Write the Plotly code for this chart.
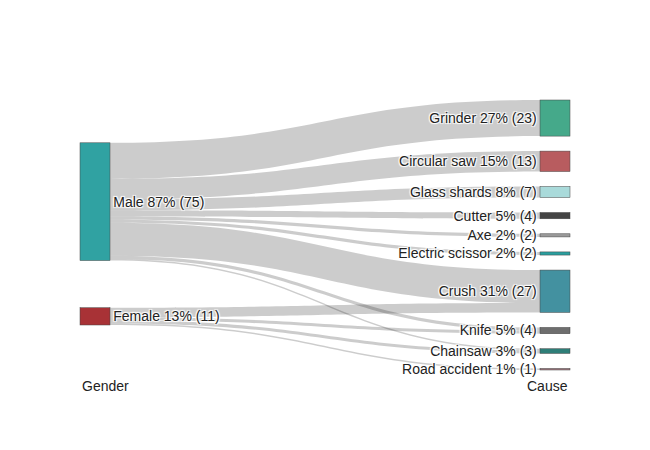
import plotly.graph_objects as go

node_labels = [
    "Male 87% (75)", "Female 13% (11)",
    "Grinder 27% (23)", "Circular saw 15% (13)", "Glass shards 8% (7)",
    "Cutter 5% (4)", "Axe 2% (2)", "Electric scissor 2% (2)",
    "Crush 31% (27)", "Knife 5% (4)", "Chainsaw 3% (3)", "Road accident 1% (1)",
]
node_colors = [
    "#30A2A2", "#A83236",
    "#45A98A", "#B85C5F", "#A9DADA", "#444444", "#9A9A9A", "#2A9E9E",
    "#4391A0", "#6E6E6E", "#2E7E78", "#A07A80",
]

link_source = [0, 0, 0, 0, 0, 0, 0, 0, 0, 1, 1, 1, 1]
link_target = [2, 3, 4, 5, 6, 7, 8, 9, 10, 8, 9, 10, 11]
link_value = [23, 13, 7, 4, 2, 2, 21, 2, 1, 6, 2, 2, 1]

fig = go.Figure(go.Sankey(
    arrangement="snap",
    node=dict(
        label=node_labels,
        color=node_colors,
        pad=15,
        thickness=30,
        line=dict(color="#444444", width=0.5),
    ),
    link=dict(source=link_source, target=link_target, value=link_value),
    textfont=dict(family="Liberation Sans, Arial, sans-serif", size=14, color="#222222"),
    hoverinfo="none",
))

fig.update_layout(
    width=650, height=450,
    margin=dict(l=72, r=88, t=92, b=88),
    paper_bgcolor="white",
    font=dict(family="Liberation Sans, Arial, sans-serif", size=14, color="#222222"),
    annotations=[
        dict(text="Gender", x=0, y=-0.06, xref="paper", yref="paper",
             xanchor="left", yanchor="middle", showarrow=False,
             font=dict(size=14, color="#222222")),
        dict(text="Cause", x=1, y=-0.06, xref="paper", yref="paper",
             xanchor="right", yanchor="middle", showarrow=False,
             font=dict(size=14, color="#222222")),
    ],
)

fig.write_html("out.html")
